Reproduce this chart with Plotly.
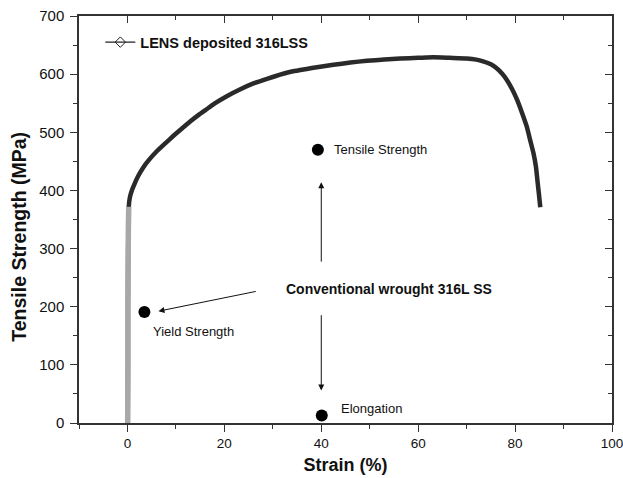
import plotly.graph_objects as go

# Stress-strain curve
strain = [0.05, 0.08, 0.1, 0.1, 0.1, 0.12, 0.15, 0.2, 0.27, 0.5, 0.96, 1.6, 2.3, 3.3, 4.4, 6.0,
          7.8, 9.5, 11.3, 13.0, 14.7, 16.4, 18.1, 20.5, 23.3, 26, 28.8, 31.5, 34.2, 37, 39.1,
          42.5, 46, 49.4, 53, 56.3, 60, 63.1, 66.5, 70, 72, 73.4, 75, 76.2, 77.3, 78.3,
          79.4, 80.4, 81.4, 82.4, 83.1, 83.8, 84.3, 84.6, 84.9, 85.2]
stress = [0, 50, 100, 150, 200, 250, 300, 340, 372, 388, 401, 414, 426, 440, 452, 467,
          481, 494, 507, 519, 530, 540, 550, 562, 574, 584, 592, 599, 605, 609, 612,
          616, 620, 623, 625, 627, 628, 629, 628, 627, 625, 622, 617, 610, 601, 590,
          574, 556, 534, 510, 487, 464, 441, 418, 395, 371]
elastic_n = 9  # points in the lighter elastic segment

# Conventional wrought 316L SS reference points
ref_labels = ["Yield Strength", "Tensile Strength", "Elongation"]
ref_x = [3.5, 39.3, 40.1]
ref_y = [191, 470, 13]

x_ticks = [0, 20, 40, 60, 80, 100]
y_ticks = [0, 100, 200, 300, 400, 500, 600, 700]

FONT = "Arial, Liberation Sans, sans-serif"
AX = "#333333"

fig = go.Figure()
fig.add_trace(go.Scatter(x=strain, y=stress, mode="lines",
                         line=dict(color="#2a2a2a", width=4.5, shape="spline", smoothing=0.35),
                         showlegend=False, hoverinfo="skip"))
fig.add_trace(go.Scatter(x=strain[:elastic_n], y=stress[:elastic_n], mode="lines",
                         line=dict(color="#a8a8a8", width=5.5, shape="spline", smoothing=0.35),
                         showlegend=False, hoverinfo="skip"))
fig.add_trace(go.Scatter(x=[None], y=[None], mode="lines+markers",
                         name="<b>LENS deposited 316LSS</b>",
                         line=dict(color="#222222", width=1.2),
                         marker=dict(symbol="diamond-open", size=8, color="#222222",
                                     line=dict(width=1))))
fig.add_trace(go.Scatter(x=ref_x, y=ref_y, mode="markers", showlegend=False,
                         marker=dict(symbol="circle", size=12, color="black")))
# invisible trace on mirrored axes
fig.add_trace(go.Scatter(x=[0], y=[0], xaxis="x2", yaxis="y2", mode="markers",
                         marker=dict(opacity=0), showlegend=False, hoverinfo="skip"))

# point labels
label_pos = [(4.9, 158), (42.3, 470), (43.6, 25)]
for t, (lx, ly) in zip(ref_labels, label_pos):
    fig.add_annotation(x=lx, y=ly, text=t, showarrow=False, xanchor="left",
                       font=dict(family=FONT, size=13, color="#111"))

fig.add_annotation(x=54.0, y=229.7, text="<b>Conventional wrought 316L SS</b>",
                   showarrow=False, font=dict(family=FONT, size=14, color="#111"))

# y-axis title (placed as in reference, slightly below centre)
fig.add_annotation(xref="paper", yref="paper", x=(19.5 - 79) / 533.5, y=(422.7 - 237) / 406.7,
                   text="<b>Tensile Strength (MPa)</b>", textangle=-90, showarrow=False,
                   xanchor="center", yanchor="middle",
                   font=dict(family=FONT, size=19.5, color="#111"))

# arrows
arrows = [((26.8, 226.8), (6.4, 192.3)), ((40.0, 275), (40.0, 414)), ((40.0, 188), (40.0, 56))]
for (sx, sy), (ex, ey) in arrows:
    fig.add_annotation(x=ex, y=ey, ax=sx, ay=sy, xref="x", yref="y", axref="x", ayref="y",
                       text="", showarrow=True, arrowhead=2, arrowsize=1.2,
                       arrowwidth=1, arrowcolor="#111")

common = dict(showgrid=False, zeroline=False, linecolor=AX, linewidth=1.5,
              tickcolor=AX, tickwidth=1.2, automargin=False)
fig.update_layout(
    width=623, height=478,
    margin=dict(l=79, r=10.5, t=16, b=55.3),
    paper_bgcolor="white", plot_bgcolor="white",
    font=dict(family=FONT, size=13, color="#111"),
    xaxis=dict(range=[-10, 100], tickvals=x_ticks, ticks="outside", ticklen=7,
               showline=True, tickfont=dict(size=13.5, color="#111"),
               ticklabeloverflow="allow",
               minor=dict(dtick=10, tick0=0, ticks="outside", ticklen=4, tickcolor=AX),
               title=dict(text="<b>Strain (%)</b>", font=dict(size=18, color="#111"),
                          standoff=8),
               **common),
    yaxis=dict(range=[0, 700], tickvals=y_ticks, ticks="outside", ticklen=7,
               showline=True, tickfont=dict(size=15, color="#111"), ticklabelstandoff=3,
               ticklabeloverflow="allow",
               minor=dict(dtick=50, tick0=0, ticks="outside", ticklen=4, tickcolor=AX),
               **common),
    xaxis2=dict(overlaying="x", side="top", matches="x", range=[-10, 100],
                tickvals=x_ticks, ticks="inside", ticklen=7, showticklabels=False,
                showline=True,
                minor=dict(dtick=10, tick0=0, ticks="inside", ticklen=4, tickcolor=AX),
                **common),
    yaxis2=dict(overlaying="y", side="right", matches="y", range=[0, 700],
                tickvals=y_ticks, ticks="inside", ticklen=7, showticklabels=False,
                showline=True,
                minor=dict(dtick=50, tick0=0, ticks="inside", ticklen=4, tickcolor=AX),
                **common),
    legend=dict(x=0.04, y=0.975, xanchor="left", yanchor="top",
                bgcolor="rgba(0,0,0,0)", borderwidth=0,
                font=dict(family=FONT, size=14.5, color="#111"),
                itemwidth=30),
    showlegend=True,
)

fig.write_html("out.html")
